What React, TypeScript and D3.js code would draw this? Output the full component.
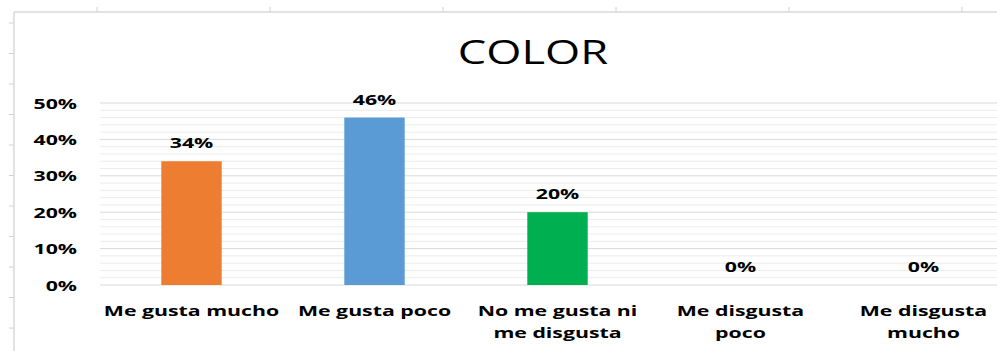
import React from "react";
import * as d3 from "d3";

const title = "COLOR";
const categories = [
  "Me gusta mucho",
  "Me gusta poco",
  "No me gusta ni me disgusta",
  "Me disgusta poco",
  "Me disgusta mucho",
];
const values = [0.34, 0.46, 0.2, 0, 0];
const colors = ["#ED7D31", "#5B9BD5", "#00B050", "#A5A5A5", "#FFC000"];
const yTicks = [0, 0.1, 0.2, 0.3, 0.4, 0.5];

const W = 997;
const H = 351;
const FONT = "'Open Sans', 'DejaVu Sans', sans-serif";
const SX = 1.42;
const SX_TITLE = 1.35;

function wrap(s: string, max: number): string[] {
  const words = s.split(" ");
  const lines: string[] = [];
  let cur = "";
  for (const w of words) {
    const next = cur ? cur + " " + w : w;
    if (next.length > max && cur) {
      lines.push(cur);
      cur = w;
    } else cur = next;
  }
  if (cur) lines.push(cur);
  return lines;
}

export default function App() {
  const x = d3
    .scaleBand<string>()
    .domain(categories)
    .range([100, 1015])
    .paddingInner(0.67)
    .paddingOuter(0.335);
  const y = d3.scaleLinear().domain([0, 0.5]).range([285, 103]);
  const minor = d3.range(0, 0.5001, 0.02).filter((v) => Math.round(v * 100) % 10 !== 0);
  const fmt = d3.format(".0%");
  const colLines = d3.range(97, W, 173);
  const rowLines = d3.range(23, H, 30.5);

  return (
    <svg
      width={W}
      height={H}
      style={{ position: "absolute", left: 0, top: 0, background: "#fff" }}
    >
      <rect x={0} y={0} width={W} height={H} fill="#fff" />
      {/* sheet fragments */}
      {colLines.map((c, i) => (
        <line key={"c" + i} x1={c} x2={c} y1={7} y2={12} stroke="#d0d0d0" />
      ))}
      {rowLines.map((r, i) => (
        <line key={"r" + i} x1={9} x2={14} y1={r} y2={r} stroke="#d0d0d0" />
      ))}
      <line x1={14} x2={W} y1={12} y2={12} stroke="#d9d9d9" strokeWidth={1.5} />
      <line x1={14} x2={14} y1={12} y2={H} stroke="#d9d9d9" strokeWidth={1.5} />

      {/* title */}
      <text
        transform={`translate(533,64) scale(${SX_TITLE},1)`}
        textAnchor="middle"
        fontFamily={FONT}
        fontSize={33.5}
        fill="#000"
      >
        {title}
      </text>

      {/* gridlines */}
      {minor.map((v, i) => (
        <line key={"m" + i} x1={100} x2={W} y1={y(v)} y2={y(v)} stroke="#ececec" />
      ))}
      {yTicks.map((v, i) => (
        <line key={"g" + i} x1={100} x2={W} y1={y(v)} y2={y(v)} stroke="#d9d9d9" />
      ))}

      {/* y tick labels */}
      {yTicks.map((v, i) => (
        <text
          key={"t" + i}
          transform={`translate(77,${y(v) + 5.5}) scale(${SX},1)`}
          textAnchor="end"
          fontFamily={FONT}
          fontWeight="bold"
          fontSize={15}
          fill="#000"
        >
          {fmt(v)}
        </text>
      ))}

      {/* bars */}
      {categories.map((c, i) => (
        <rect
          key={"b" + i}
          x={x(c)}
          y={y(values[i])}
          width={x.bandwidth()}
          height={y(0) - y(values[i])}
          fill={colors[i]}
        />
      ))}

      {/* data labels */}
      {categories.map((c, i) => (
        <text
          key={"l" + i}
          transform={`translate(${(x(c) as number) + x.bandwidth() / 2},${y(values[i]) - 13}) scale(${SX},1)`}
          textAnchor="middle"
          fontFamily={FONT}
          fontWeight="bold"
          fontSize={15}
          fill="#000"
        >
          {fmt(values[i])}
        </text>
      ))}

      {/* category labels */}
      {categories.map((c, i) => (
        <g key={"x" + i}>
          {wrap(c, 14).map((ln, j) => (
            <text
              key={j}
              transform={`translate(${(x(c) as number) + x.bandwidth() / 2},${316 + j * 22}) scale(${SX},1)`}
              textAnchor="middle"
              fontFamily={FONT}
              fontWeight="bold"
              fontSize={15}
              fill="#000"
            >
              {ln}
            </text>
          ))}
        </g>
      ))}
    </svg>
  );
}
